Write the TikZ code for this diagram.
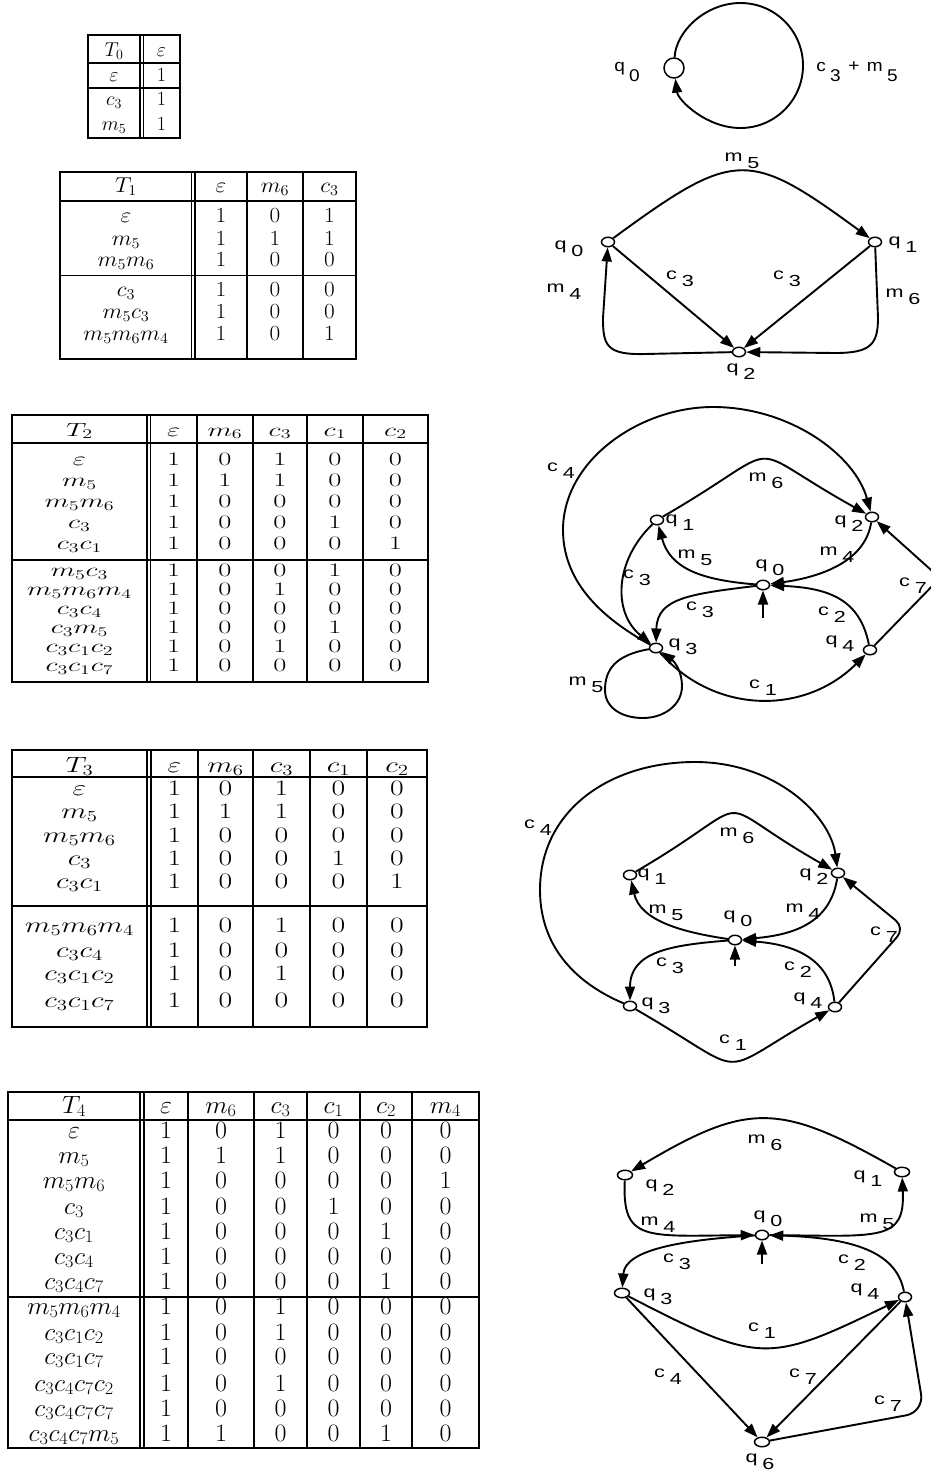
\RequirePackage{fix-cm}
\documentclass[tikz,border=0pt]{standalone}
\usepackage{graphicx}
\usepackage{fontspec}
\newfontfamily\glab{Liberation Sans}
\usetikzlibrary{arrows.meta,shapes.geometric}
% horizontal stretch of table cells and of graph labels
\newcommand\tsx{1}
\newcommand\gsx{1.35}
\newcommand\qdrop{.42em}
\newcommand\tcell[1]{\scalebox{\tsx}[1]{#1}}
\newcommand\glbl[2]{\scalebox{\gsx}[1]{#1\kern.22em\raisebox{-\qdrop}{#2}}}
\begin{document}
\begin{tikzpicture}[x=1pt,y=-1pt,
  tbo/.style={line width=1.7pt},
  tbl/.style={line width=1.2pt},
  arr/.style={line width=1.9pt,-{Triangle[length=14pt,width=10pt]}},
  st/.style={ellipse,draw,line width=1.5pt,fill=white,minimum width=13pt,minimum height=9.5pt,inner sep=0pt},
  stw/.style={st,minimum width=15pt},
  gl/.style={font=\glab\fontsize{16}{16}\selectfont,inner sep=0pt}]
\useasboundingbox (0,0) rectangle (931,1477);
\fill[white] (0,0) rectangle (931,1477);

% ---------------- table T0 ----------------
\begin{scope}[tb/.style={font=\fontsize{20}{20}\selectfont,inner sep=0pt,anchor=base}]
\draw[tbo] (88,35) rectangle (180,138);
\draw[tbo] (88,63) -- (180,63);
\draw[tbl] (88,88) -- (180,88);
\draw[tbl] (140,35) -- (140,138) (143.5,35) -- (143.5,138);
\node[tb] (t0-h0) at (114,57) {$T_0$};
\node[tb] (t0-h1) at (161.5,57) {$\varepsilon$};
\foreach \lb/\a/\y [count=\r] in {\varepsilon/1/82, c_3/1/106, m_5/1/131}{
  \node[tb] (t0-\r-0) at (114,\y) {$\lb$};
  \node[tb] (t0-\r-1) at (161.5,\y) {\a};
}
\end{scope}

% ---------------- table T1 ----------------
\begin{scope}[tb/.style={font=\fontsize{21.5}{21.5}\selectfont,inner sep=0pt,anchor=base}]
\renewcommand\tsx{1.08}
\draw[tbo] (60,172) rectangle (356,359);
\draw[tbo] (60,201) -- (356,201);
\draw[tbl] (60,275.5) -- (356,275.5);
\draw[tbl] (191.5,172) -- (191.5,359) (195,172) -- (195,359)
           (247,172) -- (247,359) (303,172) -- (303,359);
\foreach \hd/\x [count=\i] in {T_1/126, \varepsilon/221, m_6/275, c_3/329.5}
  \node[tb] (t1-h\i) at (\x,192) {\tcell{$\hd$}};
\foreach \lb/\a/\b/\c/\y [count=\r] in {
  \varepsilon/1/0/1/222, m_5/1/1/1/245, m_5m_6/1/0/0/266.5,
  c_3/1/0/0/296.5, m_5c_3/1/0/0/318, m_5m_6m_4/1/0/1/340}{
  \node[tb] (t1-\r-0) at (126,\y) {\tcell{$\lb$}};
  \node[tb] (t1-\r-1) at (221,\y) {\tcell{\a}};
  \node[tb] (t1-\r-2) at (275,\y) {\tcell{\b}};
  \node[tb] (t1-\r-3) at (329.5,\y) {\tcell{\c}};
}
\end{scope}

% ---------------- table T2 ----------------
\begin{scope}[tb/.style={font=\fontsize{19}{19}\selectfont,inner sep=0pt,anchor=base}]
\renewcommand\tsx{1.5}
\draw[tbo] (12,415) rectangle (428,682);
\draw[tbo] (12,443) -- (428,443);
\draw[tbl] (12,560) -- (428,560);
\draw[tbl] (147,415) -- (147,682) (150.5,415) -- (150.5,682) (197,415) -- (197,682)
           (253,415) -- (253,682) (307,415) -- (307,682) (363,415) -- (363,682);
\foreach \hd/\x [count=\i] in {T_2/79.5, \varepsilon/173.75, m_6/225, c_3/280, c_1/335, c_2/395.5}
  \node[tb] (t2-h\i) at (\x,436) {\tcell{$\hd$}};
\foreach \lb/\a/\b/\c/\d/\e/\y [count=\r] in {
  \varepsilon/1/0/1/0/0/465.5, m_5/1/1/1/0/0/486.5, m_5m_6/1/0/0/0/0/507.5,
  c_3/1/0/0/1/0/528.5, c_3c_1/1/0/0/0/1/549.5,
  m_5c_3/1/0/0/1/0/576.5, m_5m_6m_4/1/0/1/0/0/595.5, c_3c_4/1/0/0/0/0/614.5,
  c_3m_5/1/0/0/1/0/633.5, c_3c_1c_2/1/0/1/0/0/652.5, c_3c_1c_7/1/0/0/0/0/671.5}{
  \node[tb] (t2-\r-0) at (79.5,\y) {\tcell{$\lb$}};
  \node[tb] (t2-\r-1) at (173.75,\y) {\tcell{\a}};
  \node[tb] (t2-\r-2) at (225,\y) {\tcell{\b}};
  \node[tb] (t2-\r-3) at (280,\y) {\tcell{\c}};
  \node[tb] (t2-\r-4) at (335,\y) {\tcell{\d}};
  \node[tb] (t2-\r-5) at (395.5,\y) {\tcell{\e}};
}
\end{scope}

% ---------------- table T3 ----------------
\begin{scope}[tb/.style={font=\fontsize{22}{22}\selectfont,inner sep=0pt,anchor=base}]
\renewcommand\tsx{1.35}
\draw[tbo] (12,750) rectangle (427,1027);
\draw[tbo] (12,777) -- (427,777);
\draw[tbl] (12,906) -- (427,906);
\draw[tbl] (147,750) -- (147,1027) (151,750) -- (151,1027) (198,750) -- (198,1027)
           (253,750) -- (253,1027) (310,750) -- (310,1027) (367,750) -- (367,1027);
\foreach \hd/\x [count=\i] in {T_3/79.5, \varepsilon/174.5, m_6/225.5, c_3/281.5, c_1/338.5, c_2/397}
  \node[tb] (t3-h\i) at (\x,772) {\tcell{$\hd$}};
\foreach \lb/\a/\b/\c/\d/\e/\y [count=\r] in {
  \varepsilon/1/0/1/0/0/795.5, m_5/1/1/1/0/0/818.5, m_5m_6/1/0/0/0/0/842.5,
  c_3/1/0/0/1/0/865.5, c_3c_1/1/0/0/0/1/888.5,
  m_5m_6m_4/1/0/1/0/0/932.5, c_3c_4/1/0/0/0/0/957.5,
  c_3c_1c_2/1/0/1/0/0/980.5, c_3c_1c_7/1/0/0/0/0/1007.5}{
  \node[tb] (t3-\r-0) at (79.5,\y) {\tcell{$\lb$}};
  \node[tb] (t3-\r-1) at (174.5,\y) {\tcell{\a}};
  \node[tb] (t3-\r-2) at (225.5,\y) {\tcell{\b}};
  \node[tb] (t3-\r-3) at (281.5,\y) {\tcell{\c}};
  \node[tb] (t3-\r-4) at (338.5,\y) {\tcell{\d}};
  \node[tb] (t3-\r-5) at (397,\y) {\tcell{\e}};
}
\end{scope}

% ---------------- table T4 ----------------
\begin{scope}[tb/.style={font=\fontsize{25}{25}\selectfont,inner sep=0pt,anchor=base}]
\renewcommand\tsx{1.04}
\draw[tbo] (8,1092) rectangle (479,1448);
\draw[tbo] (8,1120) -- (479,1120);
\draw[tbl] (8,1297) -- (479,1297);
\draw[tbl] (140,1092) -- (140,1448) (144,1092) -- (144,1448) (188,1092) -- (188,1448)
           (254,1092) -- (254,1448) (307,1092) -- (307,1448) (360,1092) -- (360,1448)
           (412,1092) -- (412,1448);
\foreach \hd/\x [count=\i] in {T_4/74, \varepsilon/166, m_6/221, c_3/280.5, c_1/333.5, c_2/386, m_4/445.5}
  \node[tb] (t4-h\i) at (\x,1113) {\tcell{$\hd$}};
\foreach \lb/\a/\b/\c/\d/\e/\f/\y [count=\r] in {
  \varepsilon/1/0/1/0/0/0/1138, m_5/1/1/1/0/0/0/1163, m_5m_6/1/0/0/0/0/1/1188,
  c_3/1/0/0/1/0/0/1214, c_3c_1/1/0/0/0/1/0/1239, c_3c_4/1/0/0/0/0/0/1264,
  c_3c_4c_7/1/0/0/0/1/0/1289,
  m_5m_6m_4/1/0/1/0/0/0/1314, c_3c_1c_2/1/0/1/0/0/0/1340, c_3c_1c_7/1/0/0/0/0/0/1364,
  c_3c_4c_7c_2/1/0/1/0/0/0/1391, c_3c_4c_7c_7/1/0/0/0/0/0/1416,
  c_3c_4c_7m_5/1/1/0/0/1/0/1441}{
  \node[tb] (t4-\r-0) at (74,\y) {\tcell{$\lb$}};
  \node[tb] (t4-\r-1) at (166,\y) {\tcell{\a}};
  \node[tb] (t4-\r-2) at (221,\y) {\tcell{\b}};
  \node[tb] (t4-\r-3) at (280.5,\y) {\tcell{\c}};
  \node[tb] (t4-\r-4) at (333.5,\y) {\tcell{\d}};
  \node[tb] (t4-\r-5) at (386,\y) {\tcell{\e}};
  \node[tb] (t4-\r-6) at (445.5,\y) {\tcell{\f}};
}
\end{scope}

% ---------------- automaton A0 ----------------
\begin{scope}[gl/.append style={font=\glab\fontsize{17}{17}\selectfont}]
\renewcommand\gsx{1.12}
\renewcommand\qdrop{.6em}
\node[circle,draw,line width=1.5pt,fill=white,minimum size=20pt,inner sep=0pt] (a0) at (674,68) {};
\draw[arr] (a0) .. controls (676,31) and (706,3) .. (740.5,3)
  .. controls (775,3) and (803,31) .. (803,65.5)
  .. controls (803,100) and (775,128) .. (740.5,128)
  .. controls (706,128) and (678,100) .. (a0);
\node[gl] (la-q0) at (627,72) {\glbl{q}{0}};
\node[gl] (la-e) at (857,72) {\scalebox{\gsx}[1]{c\kern.22em\raisebox{-\qdrop}{3}\kern.4em+\kern.4em m\kern.22em\raisebox{-\qdrop}{5}}};
\end{scope}

% ---------------- automaton A1 ----------------
\node[st] (b0) at (608,242) {};
\node[st] (b1) at (875,242) {};
\node[st] (b2) at (739,352) {};
\draw[arr] (b0) .. controls (735,149) and (748,149) .. (b1);
\draw[arr] (b0) -- (b2);
\draw[arr] (b1) -- (b2);
\draw[arr] (b2) -- (645,354) .. controls (606,355) and (603,345) .. (603,318) -- (b0);
\draw[arr] (b1) -- (878,318) .. controls (878,345) and (870,353) .. (835,353) -- (b2);
\node[gl] (lb-m5) at (742,161) {\glbl{m}{5}};
\node[gl] (lb-c3a) at (680,279) {\glbl{c}{3}};
\node[gl] (lb-c3b) at (787,279) {\glbl{c}{3}};
\node[gl] (lb-m4) at (564,292) {\glbl{m}{4}};
\node[gl] (lb-m6) at (903,297) {\glbl{m}{6}};
\node[gl] (lb-q0) at (569,249) {\glbl{q}{0}};
\node[gl] (lb-q1) at (903,245) {\glbl{q}{1}};
\node[gl] (lb-q2) at (741,372) {\glbl{q}{2}};

% ---------------- automaton A2 ----------------
\node[st] (c1) at (657,520) {};
\node[st] (c2) at (872,517) {};
\node[st] (c0) at (763,585) {};
\node[st] (c3) at (656,648) {};
\node[st] (c4) at (870,650) {};
\coordinate (c0in) at (763,618);
\draw[arr] (c1) .. controls (794,441) and (735,441) .. (c2);
\draw[arr] (c3) .. controls (615,625) and (563,590) .. (563,530)
  .. controls (563,460) and (640,407) .. (713,407)
  .. controls (790,407) and (855,455) .. (c2);
\draw[arr] (c0) .. controls (700,580) and (670,568) .. (c1);
\draw[arr] (c2) .. controls (865,562) and (820,577) .. (c0);
\draw[arr] (c1) .. controls (615,560) and (612,612) .. (c3);
\draw[arr] (c0) .. controls (690,594) and (657,598) .. (c3);
\draw[arr] (c4) .. controls (860,600) and (830,588) .. (c0);
\draw[arr,rounded corners=12pt] (c4) -- (940,578) -- (c2);
\draw[arr] (c3) .. controls (715,715) and (805,715) .. (c4);
\draw[arr] (c3) .. controls (615,655) and (605,670) .. (605,690)
  .. controls (605,708) and (622,718) .. (643,718)
  .. controls (664,718) and (682,705) .. (682,686)
  .. controls (682,672) and (675,662) .. (c3);
\draw[arr] (c0in) -- (c0);
\node[gl] (lc-c4) at (561,471) {\glbl{c}{4}};
\node[gl] (lc-m6) at (766,481) {\glbl{m}{6}};
\node[gl] (lc-q1) at (680,523) {\glbl{q}{1}};
\node[gl] (lc-q2) at (849,524) {\glbl{q}{2}};
\node[gl] (lc-m5) at (695,558) {\glbl{m}{5}};
\node[gl] (lc-m4) at (837,555) {\glbl{m}{4}};
\node[gl] (lc-q0) at (770,568) {\glbl{q}{0}};
\node[gl] (lc-c3a) at (637,578) {\glbl{c}{3}};
\node[gl] (lc-c7) at (913,586) {\glbl{c}{7}};
\node[gl] (lc-c3b) at (700,610) {\glbl{c}{3}};
\node[gl] (lc-c2) at (832,615) {\glbl{c}{2}};
\node[gl] (lc-q3) at (683,647) {\glbl{q}{3}};
\node[gl] (lc-q4) at (840,644) {\glbl{q}{4}};
\node[gl] (lc-m5b) at (586,685) {\glbl{m}{5}};
\node[gl] (lc-c1) at (763,688) {\glbl{c}{1}};

% ---------------- automaton A3 ----------------
\node[st] (d1) at (630,875) {};
\node[st] (d2) at (838,873) {};
\node[st] (d0) at (735,940) {};
\node[st] (d3) at (630,1006) {};
\node[st] (d4) at (835,1007) {};
\coordinate (d0in) at (735,966);
\draw[arr] (d1) .. controls (767,795) and (701,795) .. (d2);
\draw[arr] (d3) .. controls (580,985) and (540,950) .. (540,890)
  .. controls (540,810) and (610,762) .. (695,762)
  .. controls (775,762) and (830,815) .. (d2);
\draw[arr] (d0) .. controls (680,932) and (640,920) .. (d1);
\draw[arr] (d2) .. controls (830,925) and (790,935) .. (d0);
\draw[arr] (d0) .. controls (670,945) and (630,952) .. (d3);
\draw[arr] (d4) .. controls (830,962) and (800,945) .. (d0);
\draw[arr,rounded corners=12pt] (d4) -- (905,928) -- (d2);
\draw[arr] (d3) .. controls (755,1078) and (710,1078) .. (d4);
\draw[arr] (d0in) -- (d0);
\node[gl] (ld-c4) at (538,828) {\glbl{c}{4}};
\node[gl] (ld-m6) at (737,836) {\glbl{m}{6}};
\node[gl] (ld-q1) at (652,877) {\glbl{q}{1}};
\node[gl] (ld-q2) at (814,877) {\glbl{q}{2}};
\node[gl] (ld-m5) at (666,913) {\glbl{m}{5}};
\node[gl] (ld-m4) at (803,912) {\glbl{m}{4}};
\node[gl] (ld-q0) at (738,919) {\glbl{q}{0}};
\node[gl] (ld-c7) at (884,935) {\glbl{c}{7}};
\node[gl] (ld-c3) at (670,966) {\glbl{c}{3}};
\node[gl] (ld-c2) at (798,970) {\glbl{c}{2}};
\node[gl] (ld-q3) at (656,1006) {\glbl{q}{3}};
\node[gl] (ld-q4) at (808,1001) {\glbl{q}{4}};
\node[gl] (ld-c1) at (733,1043) {\glbl{c}{1}};

% ---------------- automaton A4 ----------------
\node[stw] (e2) at (625,1175) {};
\node[stw] (e1) at (902,1172) {};
\node[st] (e0) at (762,1235) {};
\node[stw] (e3) at (622,1293) {};
\node[st] (e4) at (905,1297) {};
\node[stw] (e6) at (762,1442) {};
\coordinate (e0in) at (762,1264);
\draw[arr] (e1) .. controls (779,1102) and (748,1102) .. (e2);
\draw[arr] (e2) .. controls (622,1242) and (645,1236) .. (e0);
\draw[arr] (e0) .. controls (880,1236) and (905,1242) .. (e1);
\draw[arr] (e0) .. controls (680,1240) and (625,1250) .. (e3);
\draw[arr] (e4) .. controls (897,1255) and (860,1238) .. (e0);
\draw[arr] (e3) .. controls (760,1364) and (767,1364) .. (e4);
\draw[arr] (e3) -- (e6);
\draw[arr] (e4) -- (e6);
\draw[arr,rounded corners=18pt] (e6) -- (924,1412) -- (e4);
\draw[arr] (e0in) -- (e0);
\node[gl] (le-m6) at (765,1143) {\glbl{m}{6}};
\node[gl] (le-q2) at (660,1188) {\glbl{q}{2}};
\node[gl] (le-q1) at (868,1179) {\glbl{q}{1}};
\node[gl] (le-m4) at (658,1225) {\glbl{m}{4}};
\node[gl] (le-q0) at (768,1219) {\glbl{q}{0}};
\node[gl] (le-m5) at (877,1222) {\glbl{m}{5}};
\node[gl] (le-c3) at (677,1262) {\glbl{c}{3}};
\node[gl] (le-c2) at (852,1263) {\glbl{c}{2}};
\node[gl] (le-q3) at (658,1297) {\glbl{q}{3}};
\node[gl] (le-q4) at (865,1292) {\glbl{q}{4}};
\node[gl] (le-c1) at (762,1331) {\glbl{c}{1}};
\node[gl] (le-c4) at (668,1377) {\glbl{c}{4}};
\node[gl] (le-c7a) at (803,1377) {\glbl{c}{7}};
\node[gl] (le-c7b) at (888,1404) {\glbl{c}{7}};
\node[gl] (le-q6) at (760,1462) {\glbl{q}{6}};
\end{tikzpicture}
\end{document}
